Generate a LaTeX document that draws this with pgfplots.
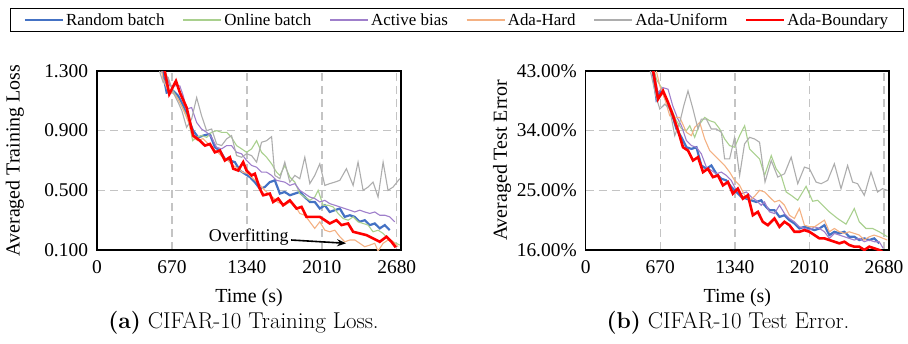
\documentclass[border=0pt]{standalone}
\usepackage{fontspec}
\usepackage{pgfplots}
\pgfplotsset{compat=1.18}
\usetikzlibrary{arrows.meta}
\newfontfamily\tnr{Liberation Serif}
\definecolor{cBlue}{HTML}{4472C4}
\definecolor{cGreen}{HTML}{A9D08E}
\definecolor{cPurple}{HTML}{9F7FCB}
\definecolor{cOrange}{HTML}{F4B183}
\definecolor{cGray}{HTML}{ADADAD}
\definecolor{cRed}{HTML}{FF0000}
\definecolor{cGrid}{HTML}{C4C4C4}
\pgfplotsset{
  common/.style={
    anchor=north west, scale only axis, height=179bp,
    xmin=0,
    xtick={0,670,1340,2010,2680}, xticklabels={0,670,1340,2010,2680},
    major tick length=0pt,
    /pgf/number format/assume math mode=true,
    grid=major,
    major grid style={cGrid, line width=1.4bp, dash pattern=on 8bp off 5bp},
    axis line style={black, line width=1.2bp},
    ticklabel style={font=\tnr\fontsize{19.5}{22}\selectfont},
    xticklabel style={yshift=-7bp},
    yticklabel style={xshift=-5.5bp},
    xlabel={Time (s)},
    label style={font=\tnr\fontsize{20}{24}\selectfont},
    xlabel style={at={(axis description cs:0.5,-0.268)}, anchor=center},
    legend image code/.code={\draw[#1, line width=2.4bp] (0bp,0bp) -- (38bp,0bp);},
  },
  rb/.style={cBlue, line width=2.2bp},
  ob/.style={cGreen, line width=1.1bp},
  ab/.style={cPurple, line width=1.1bp},
  ah/.style={cOrange, line width=1.1bp},
  au/.style={cGray, line width=1.1bp},
  abd/.style={cRed, line width=2.6bp},
}
\begin{document}
\begin{tikzpicture}
\path[use as bounding box] (0,0) rectangle (908bp,-344bp);
% ---------------- left: training loss
\begin{axis}[common, at={(97bp,-71bp)}, width=304bp,
  xmax=2718, ymin=0.1, ymax=1.3,
  ytick={0.1,0.5,0.9,1.3}, yticklabels={0.100,0.500,0.900,1.300},
  ylabel={Averaged Training Loss},
  ylabel style={at={(axis description cs:-0.27,0.5)}, anchor=center},
  legend columns=-1,
  legend style={at={(axis description cs:1.184,1.285)}, anchor=center,
    draw=black, line width=1.2bp, inner xsep=13bp, inner ysep=3bp,
    font=\tnr\fontsize{17}{20}\selectfont,
    /tikz/every even column/.append style={column sep=15.5bp}},
]
\addplot[rb] coordinates {(560,1.40)(623,1.155)(682,1.167)(726,1.133)(771,1.067)(816,0.978)(860,0.900)(905,0.855)(950,0.867)(1009,0.878)(1054,0.789)(1099,0.767)(1143,0.711)(1188,0.700)(1233,0.689)(1277,0.633)(1322,0.611)(1367,0.589)(1411,0.555)(1456,0.511)(1501,0.522)(1545,0.555)(1590,0.567)(1635,0.478)(1679,0.489)(1724,0.467)(1769,0.478)(1813,0.489)(1858,0.455)(1903,0.422)(1947,0.422)(1992,0.378)(2037,0.400)(2081,0.355)(2126,0.367)(2171,0.378)(2215,0.322)(2260,0.333)(2305,0.322)(2349,0.289)(2394,0.300)(2439,0.267)(2483,0.278)(2528,0.245)(2573,0.267)(2617,0.233)};
\addlegendentry{Random batch}
\addplot[ob] coordinates {(560,1.40)(634,1.247)(679,1.167)(726,1.111)(771,1.045)(816,0.978)(855,0.833)(891,0.855)(935,0.867)(980,0.855)(1025,0.889)(1069,0.900)(1114,0.889)(1159,0.889)(1203,0.855)(1248,0.800)(1293,0.778)(1337,0.755)(1382,0.778)(1427,0.833)(1471,0.755)(1516,0.722)(1561,0.678)(1605,0.622)(1635,0.600)(1679,0.667)(1724,0.589)(1769,0.555)(1813,0.478)(1858,0.455)(1903,0.433)(1947,0.455)(1977,0.500)(2022,0.400)(2066,0.400)(2111,0.389)(2156,0.345)(2200,0.311)(2245,0.300)(2290,0.322)(2334,0.289)(2379,0.278)(2424,0.267)(2468,0.222)(2513,0.233)(2558,0.211)(2602,0.178)(2647,0.155)(2707,0.133)};
\addlegendentry{Online batch}
\addplot[ab] coordinates {(560,1.40)(652,1.200)(741,1.200)(771,1.133)(801,1.045)(846,1.055)(891,0.955)(935,0.911)(980,0.889)(1025,0.855)(1069,0.789)(1114,0.778)(1159,0.800)(1203,0.800)(1248,0.755)(1293,0.745)(1337,0.700)(1382,0.667)(1427,0.655)(1471,0.622)(1516,0.622)(1561,0.600)(1605,0.567)(1679,0.555)(1724,0.533)(1769,0.545)(1813,0.500)(1858,0.478)(1903,0.455)(1947,0.445)(1992,0.422)(2037,0.433)(2081,0.411)(2126,0.400)(2171,0.389)(2215,0.378)(2260,0.367)(2305,0.355)(2349,0.367)(2394,0.355)(2439,0.345)(2483,0.355)(2528,0.333)(2573,0.333)(2617,0.322)(2662,0.289)};
\addlegendentry{Active bias}
\addplot[ah] coordinates {(560,1.40)(590,1.247)(634,1.167)(679,1.153)(724,1.113)(768,1.047)(813,0.967)(858,0.855)(902,0.833)(947,0.847)(992,0.813)(1036,0.780)(1081,0.753)(1126,0.720)(1170,0.700)(1215,0.667)(1260,0.647)(1304,0.620)(1349,0.613)(1394,0.580)(1438,0.553)(1483,0.513)(1528,0.480)(1572,0.453)(1617,0.420)(1679,0.400)(1724,0.422)(1769,0.400)(1813,0.345)(1858,0.333)(1903,0.289)(1947,0.245)(1992,0.289)(2037,0.233)(2081,0.222)(2126,0.233)(2171,0.189)(2215,0.155)(2260,0.167)(2305,0.167)(2349,0.145)(2394,0.122)(2439,0.133)(2483,0.145)(2513,0.093)(2558,0.145)(2602,0.167)(2647,0.155)(2692,0.122)};
\addlegendentry{Ada-Hard}
\addplot[au] coordinates {(540,1.40)(563,1.289)(592,1.222)(637,1.255)(682,1.155)(726,1.089)(759,1.033)(801,0.922)(846,0.978)(891,1.122)(935,1.000)(980,0.900)(1025,0.911)(1069,0.811)(1114,0.800)(1159,0.845)(1203,0.867)(1248,0.733)(1293,0.722)(1337,0.745)(1382,0.733)(1427,0.689)(1471,0.822)(1516,0.833)(1561,0.860)(1590,0.600)(1635,0.578)(1679,0.689)(1724,0.555)(1769,0.600)(1813,0.578)(1858,0.722)(1903,0.545)(1947,0.600)(1992,0.678)(2037,0.533)(2081,0.545)(2126,0.555)(2171,0.567)(2230,0.645)(2290,0.533)(2334,0.689)(2379,0.500)(2424,0.522)(2468,0.555)(2513,0.455)(2558,0.689)(2602,0.500)(2647,0.522)(2707,0.578)};
\addlegendentry{Ada-Uniform}
\addplot[abd] coordinates {(563,1.45)(607,1.293)(646,1.145)(706,1.233)(741,1.155)(801,1.055)(860,0.867)(920,0.833)(965,0.800)(1009,0.811)(1054,0.755)(1099,0.767)(1143,0.700)(1188,0.722)(1218,0.645)(1262,0.633)(1307,0.689)(1337,0.633)(1382,0.600)(1411,0.611)(1456,0.511)(1486,0.467)(1545,0.478)(1575,0.422)(1620,0.445)(1664,0.400)(1724,0.433)(1784,0.378)(1829,0.389)(1873,0.322)(1932,0.322)(1992,0.322)(2037,0.300)(2081,0.278)(2141,0.300)(2186,0.267)(2245,0.278)(2290,0.222)(2349,0.211)(2409,0.200)(2468,0.178)(2528,0.155)(2588,0.189)(2633,0.155)(2671,0.118)};
\addlegendentry{Ada-Boundary}
\node[font=\tnr\fontsize{18}{21}\selectfont, anchor=center] at (axis cs:1357,0.187) {Overfitting};
\draw[-{Stealth[length=9bp,width=7bp]}, line width=1.6bp, black] (axis cs:1736,0.167) -- (axis cs:2227,0.145);
\end{axis}
% ---------------- right: test error
\begin{axis}[common, at={(585.7bp,-71bp)}, width=303.3bp,
  xmax=2725, ymin=16, ymax=43,
  ytick={16,25,34,43}, yticklabels={16.00\%,25.00\%,34.00\%,43.00\%},
  ylabel={Averaged Test Error},
  ylabel style={at={(axis description cs:-0.276,0.5)}, anchor=center},
]
\addplot[rb] coordinates {(594,44.0)(636,38.75)(681,40.25)(726,38.5)(771,36.75)(815,34.25)(860,33.0)(905,31.5)(950,31.25)(995,31.5)(1039,28.75)(1084,28.25)(1129,28.75)(1174,27.5)(1219,26.75)(1263,26.5)(1308,25.5)(1353,24.75)(1398,24.0)(1443,23.75)(1487,23.5)(1532,23.25)(1577,23.5)(1607,22.75)(1651,22.0)(1696,22.0)(1741,21.0)(1786,21.25)(1830,20.5)(1875,20.0)(1920,19.25)(1965,19.5)(2010,19.25)(2055,19.0)(2100,19.25)(2145,19.75)(2189,18.25)(2234,18.75)(2279,18.5)(2324,18.75)(2368,18.0)(2413,18.0)(2458,17.5)(2503,17.75)(2548,17.5)(2592,17.75)(2637,17.0)};
\addplot[ob] coordinates {(594,44.5)(636,41.75)(681,40.5)(726,38.25)(771,37.25)(815,35.5)(860,34.3)(905,34.0)(935,34.75)(979,33.0)(1024,35.0)(1069,36.0)(1114,35.5)(1159,35.25)(1204,34.25)(1248,32.75)(1293,31.75)(1338,31.5)(1383,33.25)(1428,34.75)(1472,31.25)(1517,30.5)(1562,29.75)(1607,27.25)(1667,30.25)(1711,28.25)(1756,27.25)(1801,24.75)(1846,24.25)(1905,23.5)(1980,25.6)(2039,23.35)(2084,23.5)(2144,22.5)(2189,21.75)(2263,20.75)(2339,19.9)(2413,22.25)(2458,20.25)(2518,19.25)(2577,19.25)(2637,18.75)(2711,18.0)};
\addplot[ab] coordinates {(594,44.5)(650,39.75)(693,40.5)(740,40.25)(782,37.75)(827,35.8)(860,34.75)(905,32.5)(950,31.75)(995,31.5)(1039,30.5)(1084,28.5)(1129,28.0)(1174,27.5)(1219,27.75)(1263,27.25)(1308,26.5)(1353,25.0)(1398,24.5)(1443,24.75)(1487,24.0)(1532,23.5)(1577,22.75)(1607,23.25)(1651,21.75)(1696,21.5)(1741,22.75)(1786,21.5)(1830,20.75)(1875,20.25)(1920,19.5)(1965,19.25)(2010,19.0)(2055,19.5)(2100,19.25)(2145,18.75)(2189,17.75)(2234,18.5)(2279,18.25)(2324,18.0)(2368,17.75)(2413,17.5)(2458,17.75)(2503,17.25)(2548,17.5)(2592,17.25)(2637,17.25)(2673,16.25)};
\addplot[ah] coordinates {(621,44.0)(666,40.75)(711,38.75)(755,36.25)(800,36.0)(845,36.0)(905,33.75)(950,33.25)(979,34.5)(1024,35.25)(1069,32.75)(1114,31.0)(1159,30.25)(1204,29.5)(1248,28.75)(1293,27.75)(1338,26.5)(1383,25.75)(1428,24.25)(1472,23.5)(1517,24.1)(1562,25.0)(1607,24.75)(1651,24.0)(1696,23.25)(1741,23.5)(1786,22.75)(1830,21.25)(1875,20.75)(1920,22.25)(1965,19.75)(2010,19.5)(2055,19.5)(2100,20.0)(2145,20.5)(2189,18.75)(2234,19.25)(2279,18.75)(2324,18.5)(2368,18.75)(2413,18.5)(2458,18.25)(2503,17.5)(2548,18.0)(2592,18.25)(2637,18.0)(2709,17.5)};
\addplot[au] coordinates {(558,44.5)(591,42.25)(630,39.25)(666,37.25)(711,38.0)(755,37.25)(800,33.25)(845,35.25)(881,37.75)(919,40.0)(964,37.25)(1009,34.25)(1039,35.75)(1084,35.75)(1129,34.25)(1174,34.25)(1219,33.75)(1248,29.75)(1293,29.75)(1338,33.0)(1383,27.25)(1427,32.0)(1472,33.0)(1517,32.75)(1562,32.25)(1611,26.25)(1667,29.5)(1726,27.0)(1786,27.5)(1846,30.0)(1905,26.0)(1965,28.5)(2010,28.25)(2070,26.25)(2115,26.0)(2174,26.5)(2234,29.0)(2294,25.25)(2353,28.75)(2398,26.25)(2443,26.0)(2503,24.25)(2563,27.75)(2622,24.75)(2667,25.25)(2711,25.0)};
\addplot[abd] coordinates {(576,44.0)(606,43.0)(650,38.76)(695,40.0)(740,38.25)(785,36.25)(830,34.0)(874,31.5)(919,31.0)(964,29.5)(1009,30.0)(1054,27.75)(1098,28.25)(1143,27.0)(1188,27.25)(1233,25.75)(1278,26.25)(1322,24.5)(1367,25.25)(1412,23.75)(1457,24.25)(1502,21.25)(1547,21.75)(1591,20.25)(1636,19.75)(1696,20.75)(1741,19.5)(1786,20.25)(1830,19.75)(1875,18.75)(1920,18.75)(1965,19.0)(2010,18.75)(2055,18.25)(2100,17.75)(2145,17.75)(2189,17.5)(2234,17.25)(2279,17.0)(2324,17.25)(2368,16.75)(2413,16.5)(2458,16.5)(2503,16.0)(2548,16.5)(2592,16.25)(2637,16.0)(2667,15.7)};
\end{axis}
\node[font=\fontsize{23}{27}\selectfont] at (243.5bp,-323bp) {\textbf{(a)} CIFAR-10 Training Loss.};
\node[font=\fontsize{23}{27}\selectfont] at (728bp,-323bp) {\textbf{(b)} CIFAR-10 Test Error.};
\end{tikzpicture}
\end{document}
